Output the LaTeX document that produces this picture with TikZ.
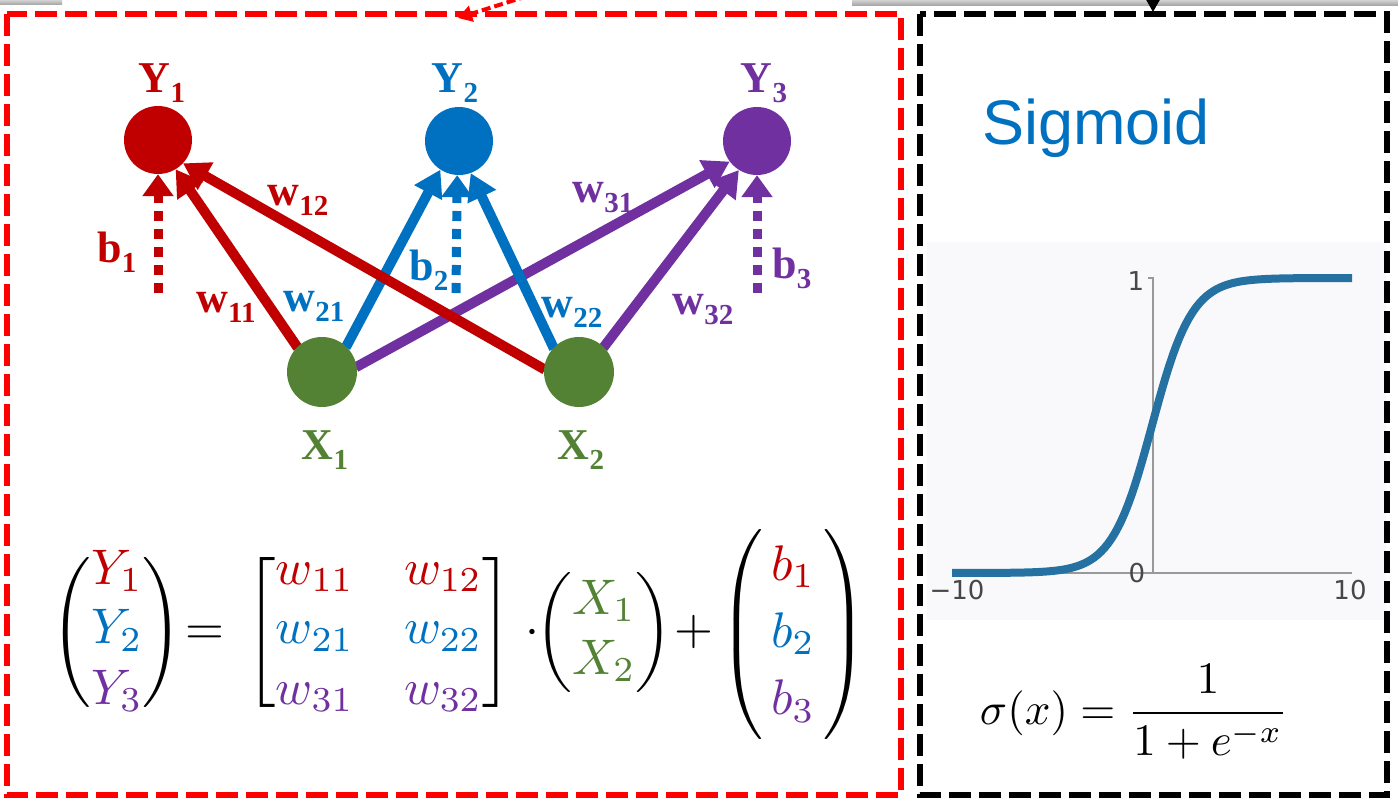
\documentclass[tikz,border=0pt]{standalone}
\usepackage{fontspec}
\usepackage{amsmath}
\usepackage{graphicx}
\usetikzlibrary{arrows.meta}
\newfontfamily\tnr{Liberation Serif}
\newfontfamily\arialf{Liberation Sans}
\newfontfamily\djv{DejaVu Sans}
\definecolor{cr}{HTML}{C00000}
\definecolor{cb}{HTML}{0070C0}
\definecolor{cp}{HTML}{7030A0}
\definecolor{cg}{HTML}{548235}
\definecolor{sigc}{RGB}{36,113,162}
\definecolor{bgp}{RGB}{249,249,251}
\newcommand\glab[2]{{\tnr\bfseries\fontsize{44}{44}\selectfont #1\raisebox{-10pt}{\fontsize{29}{29}\selectfont #2}}}
\newcommand\eqpart[1]{\scalebox{5}{$\vphantom{\Bigg(}#1$}}
\begin{document}
\begin{tikzpicture}[x=1pt,y=-1pt,
  neuron/.style={circle,inner sep=0pt,minimum size=68pt},
  edge/.style={line width=10pt,-{Triangle[length=26pt,width=30pt]}},
  bias/.style={line width=9pt,dash pattern=on 10pt off 8pt,-{Triangle[length=22pt,width=30pt]}},
  boxline/.style={line width=6pt,dash pattern=on 22pt off 8pt},
  lab/.style={inner sep=0pt},
  axlab/.style={inner sep=0pt,text=black!72,font=\djv\fontsize{26}{26}\selectfont}]
\useasboundingbox (0,0) rectangle (1398,799);
% fragments at the top edge
\shade[top color=gray!35,bottom color=gray!75] (0,0) rectangle (62,5);
\shade[top color=gray!35,bottom color=gray!75] (852,0) rectangle (1398,6);
% sigmoid panel background
\fill[bgp] (927,242) rectangle (1386,620);
% boxes
\draw[boxline,red] (7,14) rectangle (901,795);
\draw[boxline,black] (920,14) rectangle (1387,795);
\coordinate (ta) at (1153,-8);
\coordinate (tb) at (1153,12);
\draw[line width=2pt,-{Triangle[length=12pt,width=13pt]}] (ta) -- (tb);
\coordinate (ra) at (540,-8);
\coordinate (rb) at (458,18);
\draw[red,line width=4pt,dash pattern=on 9pt off 4pt,-{Triangle[length=14pt,width=16pt]}] (ra) -- (rb);
% neurons (positions)
\path
  node[neuron] (Y1) at (158,140) {}
  node[neuron] (Y2) at (459,141) {}
  node[neuron] (Y3) at (757,141) {}
  node[neuron] (X1) at (322,372) {}
  node[neuron] (X2) at (579,372) {};
\coordinate (b1s) at (158,293);
\coordinate (b2s) at (456,293);
\coordinate (b3s) at (757,293);
% edges
\draw[edge,cp] (X1.8) -- (Y3.-143);
\draw[edge,cp] (X2.45) -- (Y3.-122);
\draw[edge,cb] (X1.46) -- (Y2.-123);
\draw[edge,cb] (X2.137) -- (Y2.-70);
\draw[edge,cr] (X1.135) -- (Y1.-59);
\draw[edge,cr] (X2.176) -- (Y1.-43);
\draw[bias,cr] (b1s) -- (Y1.-90);
\draw[bias,cb] (b2s) -- (Y2.-93);
\draw[bias,cp] (b3s) -- (Y3.-90);
% neuron discs
\fill[cr] (Y1) circle (34);
\fill[cb] (Y2) circle (34);
\fill[cp] (Y3) circle (34);
\fill[cg] (X1) circle (35);
\fill[cg] (X2) circle (35);
% labels
\node[lab,text=cr] (lY1) at (162,83) {\glab{Y}{1}};
\node[lab,text=cb] (lY2) at (455,83) {\glab{Y}{2}};
\node[lab,text=cp] (lY3) at (764,83) {\glab{Y}{3}};
\node[lab,text=cg] (lX1) at (325,450) {\glab{X}{1}};
\node[lab,text=cg] (lX2) at (581,450) {\glab{X}{2}};
\node[lab,text=cr] (lb1) at (117,252) {\glab{b}{1}};
\node[lab,text=cb] (lb2) at (429,270) {\glab{b}{2}};
\node[lab,text=cp] (lb3) at (792,268) {\glab{b}{3}};
\node[lab,text=cr] (lw11) at (226,307) {\glab{w}{11}};
\node[lab,text=cr] (lw12) at (298,200) {\glab{w}{12}};
\node[lab,text=cb] (lw21) at (314,306) {\glab{w}{21}};
\node[lab,text=cb] (lw22) at (572,312) {\glab{w}{22}};
\node[lab,text=cp] (lw31) at (603,198) {\glab{w}{31}};
\node[lab,text=cp] (lw32) at (703,310) {\glab{w}{32}};
% matrix equation, piece by piece
\node[lab] (eqY) at (117,632) {\eqpart{\Bigg(\begin{array}{@{}c@{}}\color{cr}Y_1\\\color{cb}Y_2\\\color{cp}Y_3\end{array}\Bigg)}};
\node[lab] (eqE) at (198,632) {\eqpart{=}};
\node[lab] (eqW) at (379,632) {\eqpart{\Bigg[\begin{array}{@{}c@{\hspace{10pt}}c@{}}\color{cr}w_{11}&\color{cr}w_{12}\\\color{cb}w_{21}&\color{cb}w_{22}\\\color{cp}w_{31}&\color{cp}w_{32}\end{array}\Bigg]}};
\node[lab] (eqD) at (532,632) {\eqpart{\cdot}};
\node[lab] (eqX) at (604,632) {\eqpart{\bigg(\begin{array}{@{}c@{}}\color{cg}X_1\\\color{cg}X_2\end{array}\bigg)}};
\node[lab] (eqP) at (694,632) {\eqpart{+}};
\node[lab] (eqB) at (789,634) {\eqpart{\renewcommand{\arraystretch}{1.12}\left(\begin{array}{@{\,}c@{\,}}\color{cr}b_1\\\color{cb}b_2\\\color{cp}b_3\end{array}\right)}};
% sigmoid panel
\node[lab,anchor=base,text=cb,font=\arialf\fontsize{63}{63}\selectfont] (sigt) at (1096,145) {Sigmoid};
\coordinate (ax0) at (952,573);
\coordinate (ax1) at (1352,573);
\coordinate (ay0) at (1153,573);
\coordinate (ay1) at (1153,278);
\coordinate (ayt) at (1148,278);
\draw[gray!80,line width=1.3pt] (ax0) -- (ax1);
\draw[gray!80,line width=1.3pt] (ayt) -- (ay1) -- (ay0);
\draw[sigc,line width=8pt,line join=round]
  plot[domain=-10:0,samples=60] ({1152+20*\x},{573-295*exp(\x)/(1+exp(\x))})
  -- plot[domain=0:10,samples=60] ({1152+20*\x},{573-295/(1+exp(-\x))});
\node[axlab] (l1) at (1136,281) {1};
\node[axlab] (l0) at (1137,573) {0};
\node[axlab] (lm10) at (957,590) {\char"2212 10};
\node[axlab] (l10) at (1350,590) {10};
\node[lab] (sigf) at (1134,712) {\scalebox{4.5}{$\displaystyle\sigma(x)=\frac{1}{1+e^{-x}}$}};
\end{tikzpicture}
\end{document}
